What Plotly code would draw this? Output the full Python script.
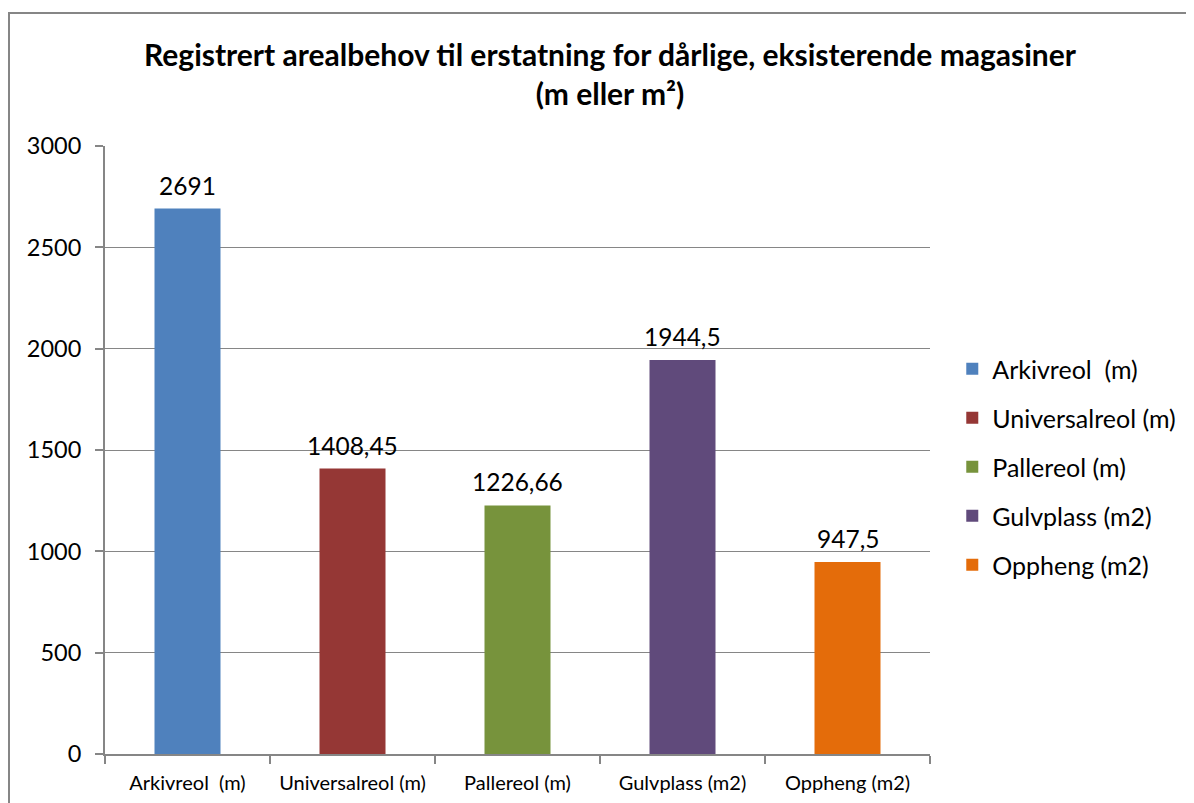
import plotly.graph_objects as go

categories = ["Arkivreol  (m)", "Universalreol (m)", "Pallereol (m)", "Gulvplass (m2)", "Oppheng (m2)"]
values = [2691, 1408.45, 1226.66, 1944.5, 947.5]
colors = ["#4F81BD", "#953735", "#77933C", "#604A7B", "#E46C0A"]
y_ticks = [0, 500, 1000, 1500, 2000, 2500, 3000]

FONT = "Lato, Open Sans, sans-serif"

fig = go.Figure()
for i, (cat, val, col) in enumerate(zip(categories, values, colors)):
    fig.add_trace(go.Bar(
        x=[cat],
        y=[val],
        name=cat,
        legendgroup=f"g{i}",
        marker=dict(color=col, line=dict(width=0)),
        width=0.4,
    ))
    # value label above each bar
    fig.add_annotation(
        x=cat,
        y=val,
        text=f"{val:g}".replace(".", ","),
        showarrow=False,
        yanchor="bottom",
        yshift=7,
        font=dict(size=24.5, color="black", family=FONT),
    )

fig.update_layout(
    width=1194,
    height=803,
    barmode="overlay",
    paper_bgcolor="white",
    plot_bgcolor="white",
    font=dict(family=FONT, color="black"),
    margin=dict(l=97, r=272, t=138, b=57),
    title=dict(
        text="<b>Registrert arealbehov til erstatning for dårlige, eksisterende magasiner<br>(m eller m²)</b>",
        x=602 / 1194,
        xanchor="center",
        y=1 - 58 / 803,
        yanchor="top",
        font=dict(size=30, family=FONT),
    ),
    legend=dict(
        x=1.027,
        y=0.671,
        xanchor="left",
        yanchor="top",
        font=dict(size=25, family=FONT),
        tracegroupgap=13.5,
        itemwidth=30,
        bgcolor="rgba(0,0,0,0)",
    ),
    xaxis=dict(
        categoryorder="array",
        categoryarray=categories,
        showgrid=False,
        showline=True,
        linecolor="#868686",
        linewidth=2,
        ticks="outside",
        tickson="boundaries",
        ticklen=8,
        tickcolor="#868686",
        tickwidth=2,
        ticklabelstandoff=10,
        tickfont=dict(size=20, family=FONT),
    ),
    yaxis=dict(
        range=[0, 3000],
        tickvals=y_ticks,
        showgrid=True,
        gridcolor="#868686",
        gridwidth=1,
        showline=True,
        linecolor="#868686",
        linewidth=2,
        ticks="outside",
        ticklen=8,
        tickcolor="#868686",
        tickwidth=2,
        ticklabelstandoff=9,
        tickfont=dict(size=23.5, family=FONT),
        zeroline=False,
    ),
    shapes=[dict(
        type="rect",
        xref="paper",
        yref="paper",
        x0=(1 - 97) / 825,
        x1=1.5,
        y0=-0.5,
        y1=(746 - 5) / 608,
        line=dict(color="#868686", width=2),
        fillcolor="rgba(0,0,0,0)",
        layer="below",
    )],
)

fig.write_html("out.html")
